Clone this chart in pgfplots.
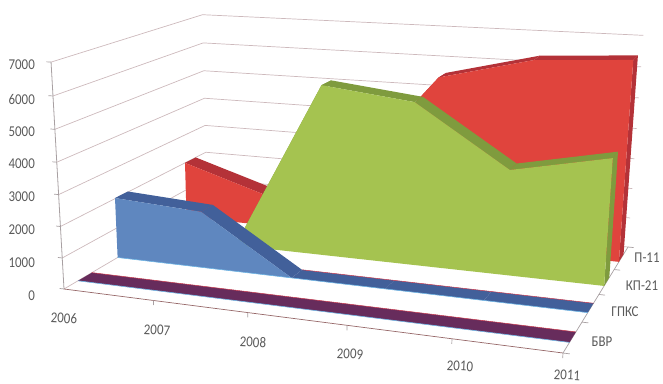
\documentclass[border=0pt]{standalone}
\usepackage{fontspec}
\setmainfont[FakeStretch=0.86]{Carlito}
\usepackage{pgfplots}
\usepackage{pgfplotstable}
\pgfplotsset{compat=1.18}

\definecolor{redF}{HTML}{E0443D}
\definecolor{redT}{HTML}{B43238}
\definecolor{greenF}{HTML}{A5C350}
\definecolor{greenT}{HTML}{7F9B3E}
\definecolor{blueF}{HTML}{5F87BF}
\definecolor{blueT}{HTML}{42609A}
\definecolor{purpleT}{HTML}{672C5C}
\definecolor{gridc}{HTML}{CDB9BC}
\definecolor{axisc}{HTML}{A8A0A2}
\definecolor{edgeB}{HTML}{6DB4E4}
\definecolor{edgeR}{HTML}{C9384C}
\definecolor{labelc}{HTML}{5A5A5A}

% Outlines of the front faces: year and value, closed along the floor
\pgfplotstableread{
year value
2006 0
2006 2000
2007 1100
2008 2100
2009 5600
2010 6330
2011 6500
2011 0
}\tblP
\pgfplotstableread{
year value
2007 0
2008 5620
2009 5280
2010 3380
2011 4000
2011 0
}\tblKP
\pgfplotstableread{
year value
2006 0
2006 2020
2007 1850
2008 0
}\tblG

% One polygon with year, depth and value in every row
\newcommand{\poly}[2]{\addplot[fill=#1,draw=none,forget plot] table[proj3,row sep=\\]{year depth value\\ #2};}
% One line with year, depth and value in every row
\newcommand{\pline}[2]{\addplot[#1,forget plot] table[proj3,row sep=\\]{year depth value\\ #2};}
% Top of one area segment: colour, front depth, back depth, year, value, year, value
\newcommand{\topseg}[7]{\poly{#1}{#4 #2 #5\\ #6 #2 #7\\ #6 #3 #7\\ #4 #3 #5\\}}

\begin{document}
\begin{tikzpicture}[
  lab/.style={text=labelc,font=\fontsize{15}{16}\selectfont,inner sep=0pt},
  declare function={
    dn(\y,\d,\z)=1-0.1264*(\y-2006)/5+0.2048*\d/4-0.05*\z/7000;
    px(\y,\d,\z)=(427.84*(\y-2006)/5+185.39*\d/4+64-15.5*\z/7000)/dn(\y,\d,\z);
    py(\y,\d,\z)=(19.38*(\y-2006)/5-42.02*\d/4+289-230*\z/7000)/dn(\y,\d,\z);
  }]
\useasboundingbox (0,0) rectangle (663pt,383pt);
\pgfplotsset{
  table/proj/.style={
    x expr={px(\thisrow{year},#1,\thisrow{value})},
    y expr={py(\thisrow{year},#1,\thisrow{value})}},
  table/proj3/.style={
    x expr={px(\thisrow{year},\thisrow{depth},\thisrow{value})},
    y expr={py(\thisrow{year},\thisrow{depth},\thisrow{value})}},
}
\begin{axis}[
  at={(0,0)},anchor=south west,
  scale only axis,width=663pt,height=383pt,
  xmin=0,xmax=663,ymin=0,ymax=383,y dir=reverse,
  hide axis,no marks,clip=false,
]
% Wall grid lines and their ticks on the value axis
\pgfplotsinvokeforeach{0,1000,2000,3000,4000,5000,6000,7000}{
  \pline{gridc,line width=0.7pt}{2006 0 #1\\ 2006 4 #1\\ 2011 4 #1\\}
  \pline{axisc,line width=0.7pt}{2005.95 0 #1\\ 2006 0 #1\\}
}
% Axis lines
\pline{axisc,line width=0.8pt}{2006 0 0\\ 2006 0 7000\\}
\pline{gridc!80!red!70!black,line width=0.7pt}{2006 0 0\\ 2011 0 0\\}
\pline{axisc,line width=0.7pt}{2011 0 0\\ 2011 4 0\\}
\pgfplotsinvokeforeach{2007,2008,2009,2010,2011}{
  \pline{axisc,line width=0.7pt}{#1 0 0\\ #1 0 -150\\}
}
\pgfplotsinvokeforeach{0,1,2,3,4}{
  \pline{axisc,line width=0.7pt}{2011 #1 0\\ 2011.06 #1 0\\}
}

% П-11
\topseg{redT}{3.33}{3.67}{2006}{2000}{2007}{1100}
\topseg{redT}{3.33}{3.67}{2007}{1100}{2008}{2100}
\topseg{redT}{3.33}{3.67}{2008}{2100}{2009}{5600}
\topseg{redT}{3.33}{3.67}{2009}{5600}{2010}{6330}
\topseg{redT}{3.33}{3.67}{2010}{6330}{2011}{6500}
\poly{redT}{2011 3.33 0\\ 2011 3.67 0\\ 2011 3.67 6500\\ 2011 3.33 6500\\}
\addplot[fill=redF,draw=none,forget plot] table[proj=3.33] {\tblP};

% КП-21
\topseg{greenT}{2.33}{2.67}{2007}{0}{2008}{5620}
\topseg{greenT}{2.33}{2.67}{2008}{5620}{2009}{5280}
\topseg{greenT}{2.33}{2.67}{2009}{5280}{2010}{3380}
\topseg{greenT}{2.33}{2.67}{2010}{3380}{2011}{4000}
\poly{greenT}{2011 2.33 0\\ 2011 2.67 0\\ 2011 2.67 4000\\ 2011 2.33 4000\\}
\addplot[fill=greenF,draw=none,forget plot] table[proj=2.33] {\tblKP};

% ГПКС
\topseg{blueT}{1.33}{1.67}{2006}{2020}{2007}{1850}
\topseg{blueT}{1.33}{1.67}{2007}{1850}{2008}{0}
\topseg{blueT}{1.33}{1.67}{2008}{0}{2009}{0}
\topseg{blueT}{1.33}{1.67}{2009}{0}{2010}{0}
\topseg{blueT}{1.33}{1.67}{2010}{0}{2011}{0}
\addplot[fill=blueF,draw=none,forget plot] table[proj=1.33] {\tblG};
\pline{edgeR,line width=0.5pt}{2008 1.67 0\\ 2011 1.67 0\\}
\pline{edgeB,line width=0.6pt}{2006 1.33 0\\ 2011 1.33 0\\}

% БВР
\topseg{purpleT}{0.33}{0.67}{2006}{0}{2011}{0}
\pline{edgeR,line width=0.5pt}{2006 0.67 0\\ 2011 0.67 0\\}
\pline{edgeB,line width=0.6pt}{2006 0.33 0\\ 2011 0.33 0\\}

% Value axis labels
\node[lab,anchor=east] at (axis cs:35,65) {7000};
\node[lab,anchor=east] at (axis cs:35,99) {6000};
\node[lab,anchor=east] at (axis cs:35,132) {5000};
\node[lab,anchor=east] at (axis cs:35,164) {4000};
\node[lab,anchor=east] at (axis cs:35,197) {3000};
\node[lab,anchor=east] at (axis cs:35,230) {2000};
\node[lab,anchor=east] at (axis cs:35,263) {1000};
\node[lab,anchor=east] at (axis cs:35,296) {0};
% Year labels
\node[lab,rotate=-3] at (axis cs:64,318) {2006};
\node[lab,rotate=-3] at (axis cs:157,330) {2007};
\node[lab,rotate=-3] at (axis cs:253,342) {2008};
\node[lab,rotate=-3] at (axis cs:350,354) {2009};
\node[lab,rotate=-3] at (axis cs:460,366) {2010};
\node[lab,rotate=-3] at (axis cs:567,375) {2011};
% Series labels
\node[lab] at (axis cs:602,342) {БВР};
\node[lab] at (axis cs:625,312) {ГПКС};
\node[lab] at (axis cs:642,286) {КП-21};
\node[lab] at (axis cs:647,258) {П-11};
\end{axis}
\end{tikzpicture}
\end{document}
